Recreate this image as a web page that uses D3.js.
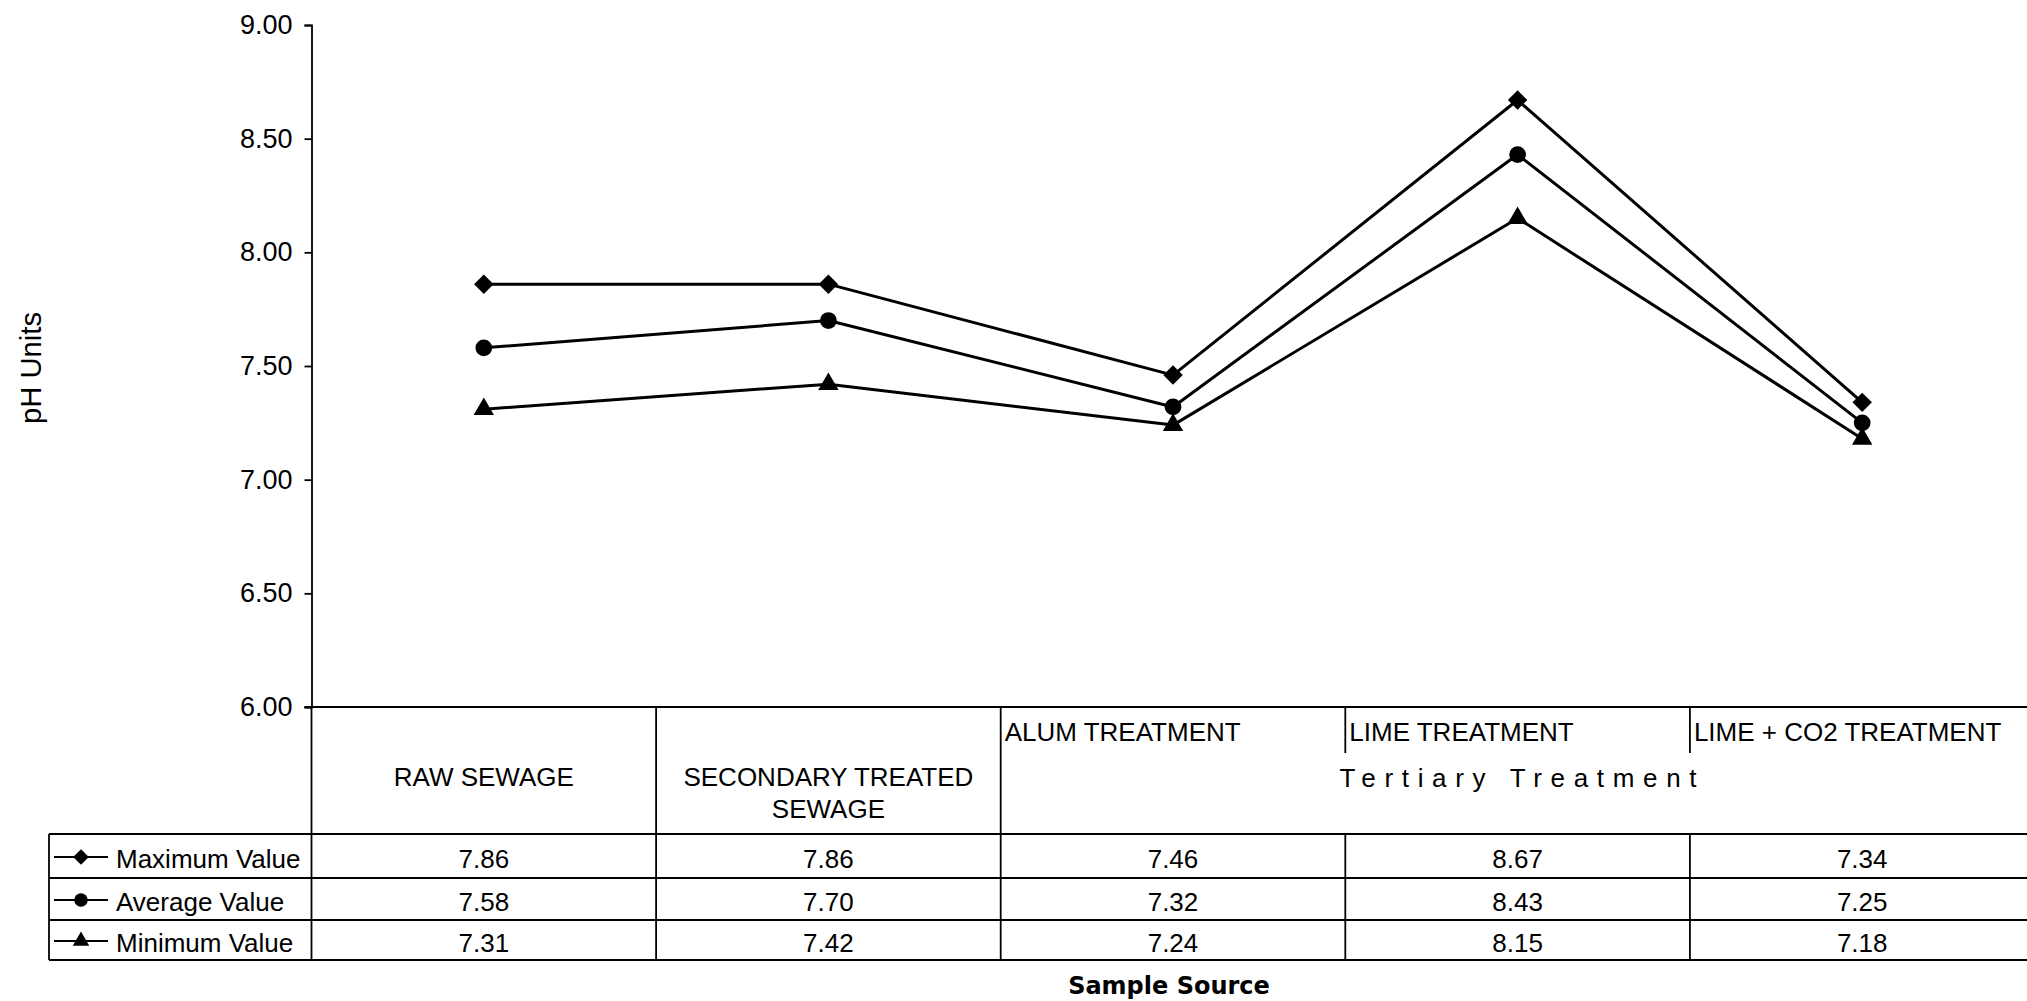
<!DOCTYPE html>
<html>
<head>
<meta charset="utf-8">
<script src="https://cdn.jsdelivr.net/npm/d3@7"></script>
<style>
  html, body { margin: 0; padding: 0; background: #fff; }
  svg { display: block; }
  text { font-family: "Liberation Sans", Arial, sans-serif; fill: #000; }
</style>
</head>
<body>
<svg id="chart" width="2027" height="1001"></svg>
<script>
// Sample sources (column headers of the data table)
const categories = ["RAW SEWAGE", "SECONDARY TREATED SEWAGE", "ALUM TREATMENT", "LIME TREATMENT", "LIME + CO2 TREATMENT"];
const headerLines = [["RAW SEWAGE"], ["SECONDARY TREATED", "SEWAGE"], ["ALUM TREATMENT"], ["LIME TREATMENT"], ["LIME + CO2 TREATMENT"]];
const tertiaryGroup = ["ALUM TREATMENT", "LIME TREATMENT", "LIME + CO2 TREATMENT"];
const tertiaryLabel = "Tertiary Treatment";

// pH readings per source
const maxValues = [7.86, 7.86, 7.46, 8.67, 7.34];
const avgValues = [7.58, 7.70, 7.32, 8.43, 7.25];
const minValues = [7.31, 7.42, 7.24, 8.15, 7.18];

const seriesNames = ["Maximum Value", "Average Value", "Minimum Value"];

const yTicks = [6.00, 6.50, 7.00, 7.50, 8.00, 8.50, 9.00];

// Wide diamond: a square turned 45 degrees
const wideDiamond = {
  draw(ctx, size) {
    const r = Math.sqrt(size / 2);
    ctx.moveTo(0, -r); ctx.lineTo(r, 0); ctx.lineTo(0, r); ctx.lineTo(-r, 0); ctx.closePath();
  }
};
const seriesSymbols = [wideDiamond, d3.symbolCircle, d3.symbolTriangle];
const symbolSizes = [190, 220, 180];

const series = [maxValues, avgValues, minValues].map((vals, i) => ({
  name: seriesNames[i],
  symbol: seriesSymbols[i],
  size: symbolSizes[i],
  values: vals.map((v, j) => ({ cat: categories[j], v }))
}));

// Layout
const left = 311.5, right = 2034.5;
const yTop = 25, yBottom = 707;
const legendLeft = 49;
const headerBottom = 834;
const rowLines = [834, 878, 920, 960];
const subHeaderBottom = 753;

const svg = d3.select("#chart");

const x = d3.scaleBand().domain(categories).range([left, right]);
const y = d3.scaleLinear().domain([6, 9]).range([yBottom, yTop]);

// Y axis
const yAxis = d3.axisLeft(y).tickValues(yTicks).tickFormat(d3.format(".2f")).tickSize(7).tickPadding(12);
const gy = svg.append("g").attr("transform", `translate(${left},0)`).call(yAxis);
gy.selectAll("text").style("font-size", "27px").attr("font-family", null);
gy.selectAll("line, path").attr("stroke", "#000").attr("stroke-width", 1.8);

// Y axis title
svg.append("text")
  .attr("transform", `translate(41,${368 + 56}) rotate(-90)`)
  .attr("textLength", 112)
  .attr("lengthAdjust", "spacingAndGlyphs")
  .style("font-size", "30px")
  .text("pH Units");

// Series lines and markers
const line = d3.line().x(d => x(d.cat) + x.bandwidth() / 2).y(d => y(d.v));
const gs = svg.append("g");
series.forEach(s => {
  gs.append("path")
    .attr("d", line(s.values))
    .attr("fill", "none")
    .attr("stroke", "#000")
    .attr("stroke-width", 3)
    .attr("stroke-linejoin", "round");
  gs.selectAll(null).data(s.values).enter().append("path")
    .attr("d", d3.symbol().type(s.symbol).size(s.size))
    .attr("transform", d => `translate(${x(d.cat) + x.bandwidth() / 2},${y(d.v)})`)
    .attr("fill", "#000");
});

// Data table
const gt = svg.append("g").attr("stroke", "#000").attr("stroke-width", 1.8);

// x-axis line / header top
gt.append("line").attr("x1", left - 7).attr("x2", right).attr("y1", yBottom).attr("y2", yBottom);
// row lines
rowLines.forEach(ry => {
  gt.append("line").attr("x1", legendLeft).attr("x2", right).attr("y1", ry).attr("y2", ry);
});
// legend column left border
gt.append("line").attr("x1", legendLeft).attr("x2", legendLeft).attr("y1", headerBottom).attr("y2", rowLines[3]);
// axis continues down through the table
gt.append("line").attr("x1", left).attr("x2", left).attr("y1", yBottom).attr("y2", rowLines[3]);
// column separators
categories.forEach((c, i) => {
  if (i === 0) return;
  const cx = x(c);
  const inGroup = tertiaryGroup.indexOf(c) > 0;
  if (inGroup) {
    gt.append("line").attr("x1", cx).attr("x2", cx).attr("y1", yBottom).attr("y2", subHeaderBottom);
    gt.append("line").attr("x1", cx).attr("x2", cx).attr("y1", headerBottom).attr("y2", rowLines[3]);
  } else {
    gt.append("line").attr("x1", cx).attr("x2", cx).attr("y1", yBottom).attr("y2", rowLines[3]);
  }
});
gt.append("line").attr("x1", right).attr("x2", right).attr("y1", yBottom).attr("y2", rowLines[3]);

// Header labels
const gh = svg.append("g").style("font-size", "26px");
categories.forEach((c, i) => {
  if (tertiaryGroup.includes(c)) {
    gh.append("text")
      .attr("x", x(c) + 4)
      .attr("y", 741)
      .text(headerLines[i][0]);
  } else {
    headerLines[i].forEach((ln, k) => {
      gh.append("text")
        .attr("x", x(c) + x.bandwidth() / 2)
        .attr("y", 786 + k * 32)
        .attr("text-anchor", "middle")
        .text(ln);
    });
  }
});
// Group label spanning the tertiary columns
const gx0 = x(tertiaryGroup[0]);
const gx1 = x(tertiaryGroup[tertiaryGroup.length - 1]) + x.bandwidth();
gh.append("text")
  .attr("x", (gx0 + gx1) / 2 - 178)
  .attr("y", 787)
  .attr("textLength", 357)
  .attr("lengthAdjust", "spacing")
  .text(tertiaryLabel);

// Value cells and legend keys
const gv = svg.append("g").style("font-size", "26px");
series.forEach((s, r) => {
  const cy = (rowLines[r] + rowLines[r + 1]) / 2;
  s.values.forEach(d => {
    gv.append("text")
      .attr("x", x(d.cat) + x.bandwidth() / 2)
      .attr("y", cy + 12)
      .attr("text-anchor", "middle")
      .text(d3.format(".2f")(d.v));
  });
  gv.append("line")
    .attr("x1", 54).attr("x2", 108).attr("y1", cy + 1).attr("y2", cy + 1)
    .attr("stroke", "#000").attr("stroke-width", 2.2);
  gv.append("path")
    .attr("d", d3.symbol().type(s.symbol).size(s.size * 0.65))
    .attr("transform", `translate(81,${cy + 1})`)
    .attr("fill", "#000");
  gv.append("text")
    .attr("x", 116)
    .attr("y", cy + 12)
    .text(s.name);
});

// X axis title
svg.append("text")
  .attr("x", 1169)
  .attr("y", 994)
  .attr("text-anchor", "middle")
  .style("font-family", "'DejaVu Sans', sans-serif")
  .style("font-weight", "bold")
  .style("font-size", "24px")
  .text("Sample Source");
</script>
</body>
</html>
